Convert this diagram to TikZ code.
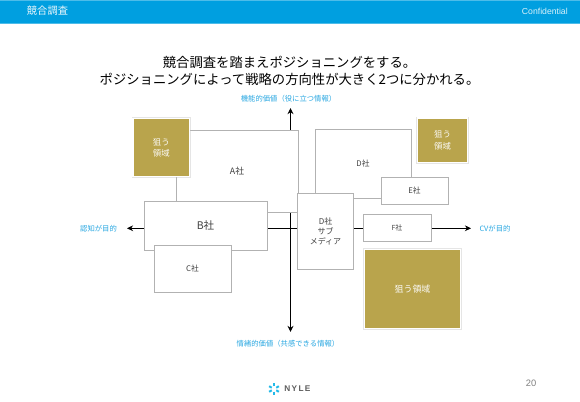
\documentclass[tikz,border=0pt]{standalone}
\usepackage{fontspec}
\setmainfont{Noto Sans CJK JP}
\newfontfamily\latinf{Liberation Sans}
\usetikzlibrary{arrows.meta}
\definecolor{hdr}{HTML}{009FE0}
\definecolor{hdrl}{HTML}{4DBCE9}
\definecolor{lbl}{HTML}{2AA8E2}
\definecolor{gold}{HTML}{B9A44C}
\definecolor{edge}{HTML}{B2B2B2}
\definecolor{ink}{HTML}{404040}
\newcommand{\fs}[2]{\fontsize{#1pt}{#2pt}\selectfont}
\tikzset{
  boxn/.style={draw=edge,line width=0.72pt,fill=white,inner sep=0pt,outer sep=0pt,align=center,text=ink},
  goldn/.style={draw=white,line width=1.15pt,fill=gold,inner sep=0pt,outer sep=0pt,align=center,text=white!95!gold,
    preaction={draw=black!25,line width=2pt,opacity=0.4,shift={(0.25pt,-0.25pt)}}},
  axisl/.style={line width=1.05pt,black,-{Stealth[length=4.6pt,width=4.4pt]}},
  lbln/.style={text=lbl,font=\fs{5.5}{7},inner sep=0pt},
  titlen/.style={text=black,font=\fs{10}{12.6},align=center,inner sep=0pt},
}
% name, x0, y0, x1, y1, style, text
\newcommand{\placebox}[7]{%
  \node[#6,minimum width={(#4-#2)*0.75pt},minimum height={(#5-#3)*0.75pt},anchor=center]
    (#1) at ({(#2+#4)/2},{(#3+#5)/2}) {#7};}
\begin{document}
\begin{tikzpicture}[x=0.75pt,y=-0.75pt]
\useasboundingbox (0,0) rectangle (580,402);
\fill[white] (0,0) rectangle (580,402);
% header
\fill[hdr] (0,0) rectangle (580,23);
\fill[hdrl] (0,23) rectangle (580,24);
\fill[hdrl] (0,0) rectangle (580,0.7);
\node[text=white!92!hdr,inner sep=0pt,font=\fs{7.7}{9}] (head) at (47.5,11) {競合調査};
\node[text=white!85!hdr,inner sep=0pt,font=\latinf\fs{6.5}{8},anchor=east] (conf) at (568,11.5) {Confidential};
% title
\node[titlen] (title) at (289.5,71) {競合調査を踏まえポジショニングをする。\\ポジショニングによって戦略の方向性が大きく2つに分かれる。};
% axes
\coordinate (ctr) at (290.5,228.3);
\coordinate (top) at (290.5,108);
\coordinate (bot) at (290.5,332);
\coordinate (lft) at (127,228.3);
\coordinate (rgt) at (471,228.3);
\draw[axisl] (ctr) -- (top);
\draw[axisl] (ctr) -- (bot);
\draw[axisl] (ctr) -- (rgt);
\draw[axisl] (ctr) -- (lft);
% axis labels
\node[lbln] (ltop) at (288.5,98.5) {機能的価値（役に立つ情報）};
\node[lbln] (lbot) at (288,344) {情緒的価値（共感できる情報）};
\node[lbln] (llft) at (98.5,228.5) {認知が目的};
\node[lbln] (lrgt) at (495,228.5) {CVが目的};
% boxes
\placebox{a}{176}{130}{298}{212}{boxn,font=\fs{6.6}{8}}{A社}
\placebox{b}{144}{201}{267}{250}{boxn,font=\fs{7.9}{10}}{B社}
\placebox{c}{154}{245}{231}{292}{boxn,font=\fs{5.8}{7}}{C社}
\placebox{d}{315}{129}{411}{198}{boxn,font=\fs{5.8}{7}}{D社}
\placebox{e}{381}{177}{448}{204}{boxn,font=\fs{5.8}{7}}{E社}
\placebox{s}{297.5}{193}{353.5}{269}{boxn,font=\fs{6}{7.5}}{D社\\サブ\\メディア}
\placebox{f}{363}{214}{431}{241}{boxn,font=\fs{5.2}{7}}{F社}
\placebox{g1}{133}{118.5}{189.5}{176.5}{goldn,font=\fs{6.3}{8.3}}{狙う\\領域}
\placebox{g2}{417.5}{118}{467.5}{162.5}{goldn,font=\fs{6.3}{8.5}}{狙う\\領域}
\placebox{g3}{364.5}{249.5}{460.5}{328.5}{goldn,font=\fs{6.7}{8.2}}{狙う領域}
% footer
\node[text=gray,inner sep=0pt,font=\latinf\fs{7}{8}] (page) at (531,383) {20};
\foreach \a in {30,90,150,210,270,330}{
  \draw[lbl!80!cyan,line width=1.5pt] (274,389) ++(\a:2.6) -- ++(\a:3);
}
\node[text=ink!85,inner sep=0pt,font=\latinf\bfseries\fs{6.2}{8},anchor=west] (logo) at (284,389) {N\,Y\,L\,E};
\end{tikzpicture}
\end{document}
